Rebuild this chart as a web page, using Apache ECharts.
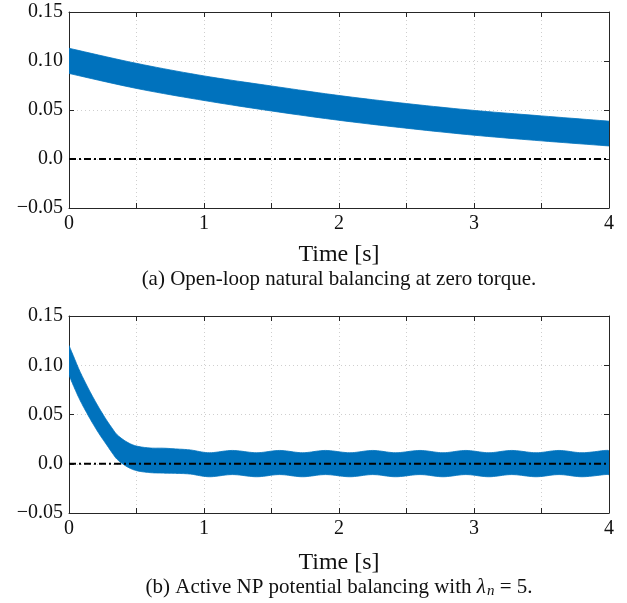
<!DOCTYPE html>
<html>
<head>
<meta charset="utf-8">
<script src="https://cdn.jsdelivr.net/npm/echarts@6/dist/echarts.min.js"></script>
<style>
html,body{margin:0;padding:0;background:#fff;}
#chart{width:627px;height:603px;}
</style>
</head>
<body>
<div id="chart"></div>
<script>
// ---- Data ----
// (a) open-loop: envelope of the fast oscillation
const timeA  = [0, 0.5, 1, 1.5, 2, 2.5, 3, 3.5, 4];
const upperA = [0.113, 0.0976, 0.0848, 0.0745, 0.0648, 0.0566, 0.0496, 0.0440, 0.0386];
const lowerA = [0.0873, 0.0720, 0.0597, 0.0490, 0.0395, 0.0314, 0.0243, 0.0185, 0.0133];

// (b) active balancing: envelope of the fast oscillation
const timeB  = [0, 0.04, 0.08, 0.13, 0.18, 0.23, 0.28, 0.32, 0.36, 0.43, 0.5, 0.6, 0.7, 0.8, 0.9,
                1.04, 1.21, 1.39, 1.56, 1.73, 1.9, 2.08, 2.25, 2.42, 2.6, 2.77, 2.94, 3.11, 3.28, 3.46, 3.63, 3.8, 3.97, 4.0];
const upperB = [0.120, 0.107, 0.094, 0.080, 0.067, 0.055, 0.044, 0.036, 0.029, 0.022, 0.018, 0.0160, 0.0158, 0.0150, 0.0140,
                0.0112, 0.0135, 0.0112, 0.0135, 0.0112, 0.0135, 0.0112, 0.0135, 0.0112, 0.0135, 0.0112, 0.0135, 0.0112, 0.0135, 0.0112, 0.0135, 0.0112, 0.0135, 0.0132];
const lowerB = [0.090, 0.077, 0.065, 0.052, 0.040, 0.029, 0.019, 0.011, 0.004, -0.003, -0.007, -0.0090, -0.0095, -0.0098, -0.0105,
                -0.0132, -0.0110, -0.0132, -0.0110, -0.0132, -0.0110, -0.0132, -0.0110, -0.0132, -0.0110, -0.0132, -0.0110, -0.0132, -0.0110, -0.0132, -0.0110, -0.0132, -0.0110, -0.0113];

// zero reference line
const zeroX = [0, 4];
const zeroY = [0, 0];

// axis ticks
const xMin = 0, xMax = 4, xStep = 0.5;
const yMin = -0.05, yMax = 0.15, yStep = 0.05;

const captionA = '(a) Open-loop natural balancing at zero torque.';
const xTitle = 'Time [s]';

// ---- Chart ----
const BLUE = '#0072BD';
const AX = '#262626';
const FONT = '"Liberation Serif", "Times New Roman", serif';

const pairs = (xs, ys) => xs.map((x, i) => [x, ys[i]]);

const yFmt = v => {
  if (Math.abs(v) < 1e-9) return '0.0';
  return (v < 0 ? '\u2212' : '') + Math.abs(v).toFixed(2);
};
const xFmt = v => Math.abs(v - Math.round(v)) < 1e-9 ? String(Math.round(v)) : '';

function mkX(gi, primary) {
  return {
    type: 'value', gridIndex: gi, min: xMin, max: xMax, interval: xStep,
    position: primary ? 'bottom' : 'top',
    axisLine: { show: true, onZero: false, lineStyle: { color: AX, width: 1 } },
    axisTick: { show: true, inside: true, length: 5, lineStyle: { color: AX, width: 1 } },
    axisLabel: { show: primary, formatter: xFmt, fontFamily: FONT, fontSize: 20, color: '#111', margin: 6, showMinLabel: true, showMaxLabel: true },
    splitLine: { show: primary, lineStyle: { color: '#cfcfcf', width: 1, type: [1, 3] } }
  };
}
function mkY(gi, primary) {
  return {
    type: 'value', gridIndex: gi, min: yMin, max: yMax, interval: yStep,
    position: primary ? 'left' : 'right',
    axisLine: { show: true, onZero: false, lineStyle: { color: AX, width: 1 } },
    axisTick: { show: true, inside: true, length: 5, lineStyle: { color: AX, width: 1 } },
    axisLabel: { show: primary, formatter: yFmt, fontFamily: FONT, fontSize: 20, color: '#111', margin: 6, showMinLabel: true, showMaxLabel: true },
    splitLine: { show: primary, lineStyle: { color: '#cfcfcf', width: 1, type: [1, 3] } }
  };
}

// Catmull-Rom smoothing of pixel points (rendering only)
function smoothPx(p) {
  const out = [];
  const n = p.length;
  for (let i = 0; i < n - 1; i++) {
    const p0 = p[Math.max(i - 1, 0)], p1 = p[i], p2 = p[i + 1], p3 = p[Math.min(i + 2, n - 1)];
    const steps = 10;
    for (let k = 0; k < steps; k++) {
      const t = k / steps, t2 = t * t, t3 = t2 * t;
      const f = (a, b, c, d) => 0.5 * ((2 * b) + (-a + c) * t + (2 * a - 5 * b + 4 * c - d) * t2 + (-a + 3 * b - 3 * c + d) * t3);
      out.push([f(p0[0], p1[0], p2[0], p3[0]), f(p0[1], p1[1], p2[1], p3[1])]);
    }
  }
  out.push(p[n - 1]);
  return out;
}

function bandSeries(gi, xs, lo, hi) {
  return [
    {
      type: 'custom', coordinateSystem: 'cartesian2d', xAxisIndex: gi * 2, yAxisIndex: gi * 2,
      data: [[xs[0], lo[0]]], silent: true, z: 2, clip: true,
      renderItem: function (params, api) {
        const up = smoothPx(xs.map((x, i) => api.coord([x, hi[i]])));
        const dn = smoothPx(xs.map((x, i) => api.coord([x, lo[i]])));
        const pts = up.concat(dn.reverse());
        return {
          type: 'polygon',
          shape: { points: pts },
          style: { fill: BLUE, stroke: BLUE, lineWidth: 0.8 }
        };
      }
    },
    {
      type: 'line', xAxisIndex: gi * 2, yAxisIndex: gi * 2, data: pairs(zeroX, zeroY),
      showSymbol: false, symbol: 'none',
      lineStyle: { color: '#000', width: 2, type: [7, 3, 2, 3] }, z: 5, silent: true
    }
  ];
}

const chart = echarts.init(document.getElementById('chart'), null, { renderer: 'canvas' });
chart.setOption({
  animation: false,
  backgroundColor: '#fff',
  grid: [
    { left: 69, top: 12, width: 540, height: 196 },
    { left: 69, top: 316, width: 540, height: 197 }
  ],
  xAxis: [mkX(0, true), mkX(0, false), mkX(1, true), mkX(1, false)],
  yAxis: [mkY(0, true), mkY(0, false), mkY(1, true), mkY(1, false)],
  series: [
    ...bandSeries(0, timeA, lowerA, upperA),
    ...bandSeries(1, timeB, lowerB, upperB)
  ],
  graphic: [
    { type: 'text', x: 339, y: 255, style: { text: xTitle, font: '24px ' + FONT, fill: '#111', textAlign: 'center', textVerticalAlign: 'middle' } },
    { type: 'text', x: 339, y: 279, style: { text: captionA, font: '21px ' + FONT, fill: '#111', textAlign: 'center', textVerticalAlign: 'middle' } },
    { type: 'text', x: 339, y: 563, style: { text: xTitle, font: '24px ' + FONT, fill: '#111', textAlign: 'center', textVerticalAlign: 'middle' } },
    { type: 'text', x: 339, y: 587, style: {
        text: '(b) Active NP potential balancing with {i|\u03bb}{s|n}{r| = 5.}',
        font: '21px ' + FONT, fill: '#111', textAlign: 'center', textVerticalAlign: 'middle',
        rich: {
          i: { fontFamily: FONT, fontSize: 21, fontStyle: 'italic', fill: '#111' },
          s: { fontFamily: FONT, fontSize: 15, fontStyle: 'italic', fill: '#111', padding: [9, 0, 0, 1] },
          r: { fontFamily: FONT, fontSize: 21, fill: '#111' }
        }
      } }
  ]
});
</script>
</body>
</html>
